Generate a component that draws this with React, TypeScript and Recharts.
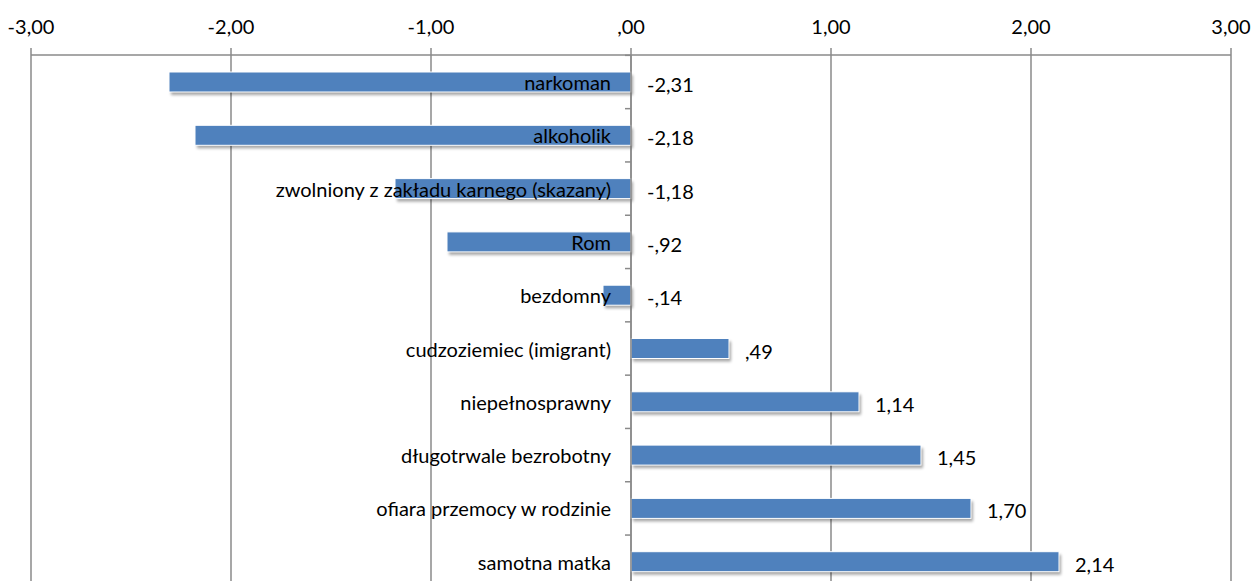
import React from 'react';
import { BarChart, Bar, XAxis, YAxis, CartesianGrid, LabelList, ReferenceLine } from 'recharts';

const categories = [
  'narkoman',
  'alkoholik',
  'zwolniony z zakładu karnego (skazany)',
  'Rom',
  'bezdomny',
  'cudzoziemiec (imigrant)',
  'niepełnosprawny',
  'długotrwale bezrobotny',
  'ofiara przemocy w rodzinie',
  'samotna matka',
];
const values = [-2.31, -2.18, -1.18, -0.92, -0.14, 0.49, 1.14, 1.45, 1.7, 2.14];
const axisTicks = [-3, -2, -1, 0, 1, 2, 3];

const data = categories.map((name, i) => ({ name, value: values[i] }));

const W = 1254;
const H = 588;
const MARGIN = { top: 25, right: 23, bottom: 0, left: 31 };
const XAXIS_H = 30;
const BAR = 20;
const PLOT_H = H - MARGIN.top - MARGIN.bottom - XAXIS_H;
const BAND = PLOT_H / categories.length;
const GAP = (BAND - BAR) / 2;
const FONT = 'Lato, sans-serif';
const FS = 20;
const GRID = '#8a8a8a';

const fmt = (v: number) => {
  const s = Math.abs(v).toFixed(2).replace('.', ',');
  const t = s.startsWith('0') ? s.slice(1) : s;
  return (v < 0 ? '-' : '') + t;
};

const zeroOf = (x: number, width: number, v: number) =>
  v < 0 ? Math.max(x, x + width) : Math.min(x, x + width);

const BarShape = (props: any) => {
  const { x, y, width, height, index } = props;
  const x0 = width < 0 ? x + width : x;
  const w = Math.abs(width);
  const id = `sh${index}`;
  return (
    <g>
      <defs>
        <filter id={id} x="-10%" y="-50%" width="120%" height="200%">
          <feGaussianBlur stdDeviation="1.5" />
        </filter>
      </defs>
      <rect x={x0 + 2} y={y + 3} width={w} height={height} fill="#000" opacity={0.35} filter={`url(#${id})`} />
      <rect x={x0} y={y} width={w} height={height} fill="#4F81BD" stroke="#ffffff" strokeWidth={1} />
    </g>
  );
};

const CatLabel = (props: any) => {
  const { x, y, width, height, value, index } = props;
  const v = values[index];
  const zero = zeroOf(x, width, v);
  const bandTop = y - GAP;
  return (
    <g>
      <line x1={zero - 6} x2={zero} y1={bandTop} y2={bandTop} stroke={GRID} strokeWidth={1.5} />
      <text
        x={zero - 20}
        y={y + height / 2}
        textAnchor="end"
        dominantBaseline="central"
        fontFamily={FONT}
        fontSize={FS}
        fill="#000"
      >
        {value}
      </text>
    </g>
  );
};

const ValLabel = (props: any) => {
  const { x, y, width, height, index } = props;
  const v = values[index];
  const zero = zeroOf(x, width, v);
  const end = v < 0 ? zero : Math.max(x, x + width);
  return (
    <text
      x={end + 16}
      y={y + height / 2 + 2}
      textAnchor="start"
      dominantBaseline="central"
      fontFamily={FONT}
      fontSize={FS}
      fill="#000"
    >
      {fmt(v)}
    </text>
  );
};

export default function App() {
  return (
    <div style={{ position: 'absolute', left: 0, top: 0, width: W, height: 581, overflow: 'hidden', background: '#fff' }}>
      <BarChart width={W} height={H} data={data} layout="vertical" margin={MARGIN} barSize={BAR}>
        <CartesianGrid horizontal={false} stroke={GRID} strokeWidth={1.5} />
        <XAxis
          type="number"
          orientation="top"
          domain={[-3, 3]}
          ticks={axisTicks}
          height={XAXIS_H}
          tickFormatter={(v: number) => fmt(v)}
          axisLine={{ stroke: GRID, strokeWidth: 1.5 }}
          tickLine={{ stroke: GRID, strokeWidth: 1.5 }}
          tickSize={7}
          tickMargin={14}
          tick={{ fill: '#000', fontFamily: FONT, fontSize: FS }}
          interval={0}
        />
        <YAxis type="category" dataKey="name" hide />
        <ReferenceLine x={0} stroke={GRID} strokeWidth={1.5} />
        <Bar dataKey="value" isAnimationActive={false} shape={<BarShape />}>
          <LabelList dataKey="name" content={<CatLabel />} />
          <LabelList dataKey="value" content={<ValLabel />} />
        </Bar>
      </BarChart>
    </div>
  );
}
